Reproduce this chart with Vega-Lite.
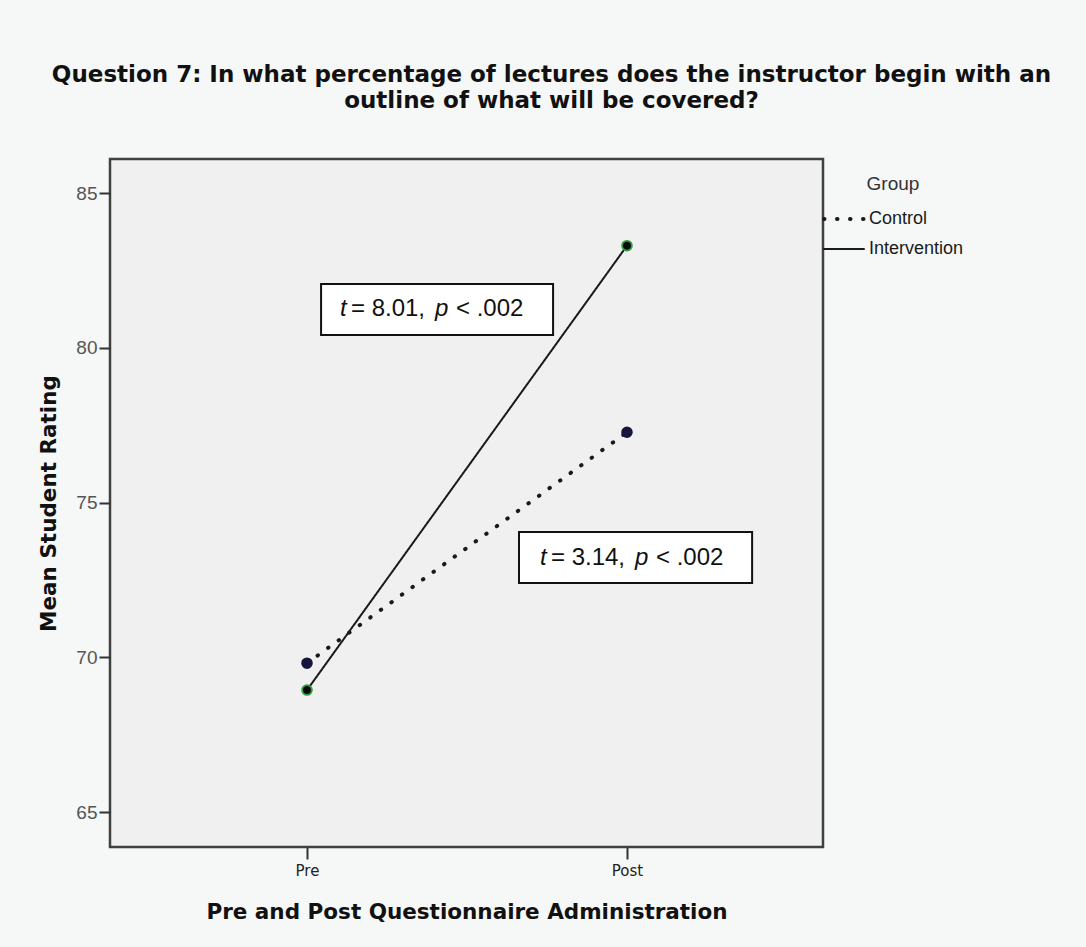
{
  "$schema": "https://vega.github.io/schema/vega-lite/v6.json",
  "autosize": {"type": "none"},
  "width": 713,
  "height": 688,
  "padding": {"left": 110, "top": 159, "right": 263, "bottom": 100},
  "background": "#f6f7f7",
  "title": {
    "text": ["Question 7:  In what percentage of lectures does the instructor begin with an", "outline of what will be covered?"],
    "font": "DejaVu Sans",
    "fontSize": 23,
    "fontWeight": "bold",
    "color": "#111111",
    "lineHeight": 26,
    "anchor": "middle",
    "dx": 85,
    "offset": 46
  },
  "datasets": {
    "means": [
      {"Group": "Control", "Time": "Pre", "Occasion": 0, "Rating": 69.81},
      {"Group": "Control", "Time": "Post", "Occasion": 1, "Rating": 77.27},
      {"Group": "Intervention", "Time": "Pre", "Occasion": 0, "Rating": 68.94},
      {"Group": "Intervention", "Time": "Post", "Occasion": 1, "Rating": 83.3}
    ],
    "notes": [
      {"x1": 0.044, "x2": 0.769, "y1": 82.06, "y2": 80.41, "tx": 0.103, "ty": 81.24, "stat": "= 8.01,"},
      {"x1": 0.6625, "x2": 1.391, "y1": 74.05, "y2": 72.4, "tx": 0.728, "ty": 73.22, "stat": "= 3.14,"}
    ]
  },
  "config": {
    "view": {"fill": "#f0f0f0", "stroke": "#404040", "strokeWidth": 2.5},
    "axis": {"grid": false, "domain": false}
  },
  "layer": [
    {
      "data": {"name": "means"},
      "mark": {"type": "line", "color": "#1a1a1a", "strokeCap": "round"},
      "encoding": {
        "x": {
          "field": "Occasion", "type": "quantitative",
          "scale": {"domain": [-0.6156, 1.6125], "nice": false, "zero": false},
          "axis": {
            "values": [0, 1],
            "labelExpr": "datum.value == 0 ? 'Pre' : 'Post'",
            "title": "Pre and Post Questionnaire Administration",
            "titleFont": "DejaVu Sans", "titleFontSize": 21.5, "titleFontWeight": "bold", "titleColor": "#111111",
            "titlePadding": 23,
            "labelFont": "DejaVu Sans", "labelFontSize": 15, "labelColor": "#222222", "labelPadding": 4,
            "tickSize": 12, "tickWidth": 2, "tickColor": "#333333"
          }
        },
        "y": {
          "field": "Rating", "type": "quantitative",
          "scale": {"domain": [63.87, 86.1], "nice": false, "zero": false},
          "axis": {
            "values": [65, 70, 75, 80, 85],
            "title": "Mean Student Rating",
            "titleFont": "DejaVu Sans", "titleFontSize": 21.5, "titleFontWeight": "bold", "titleColor": "#111111",
            "titlePadding": 15,
            "labelFont": "Liberation Sans", "labelFontSize": 19, "labelColor": "#555555", "labelPadding": 2,
            "tickSize": 11, "tickWidth": 2, "tickColor": "#333333"
          }
        },
        "detail": {"field": "Group"},
        "strokeDash": {
          "field": "Group", "type": "nominal",
          "scale": {"domain": ["Control", "Intervention"], "range": [[0.5, 12.5], [1, 0]]},
          "legend": {
            "title": "Group",
            "orient": "none", "legendX": 712, "legendY": 16,
            "titleFont": "Liberation Sans", "titleFontSize": 19, "titleFontWeight": "normal", "titleColor": "#333333",
            "titleAnchor": "middle", "titlePadding": 3,
            "labelFont": "Liberation Sans", "labelFontSize": 18, "labelColor": "#1a1a1a", "labelOffset": 3,
            "symbolType": "stroke", "symbolSize": 1600, "symbolStrokeColor": "#1a1a1a", "rowPadding": -14,
            "symbolDash": [0.5, 14],
            "encode": {"symbols": {"update": {"strokeCap": {"value": "round"}}}}
          }
        },
        "strokeWidth": {
          "field": "Group", "type": "nominal",
          "scale": {"domain": ["Control", "Intervention"], "range": [4, 2]},
          "legend": {
            "title": "Group",
            "orient": "none", "legendX": 712, "legendY": 16,
            "titleFont": "Liberation Sans", "titleFontSize": 19, "titleFontWeight": "normal", "titleColor": "#333333",
            "titleAnchor": "middle", "titlePadding": 3,
            "labelFont": "Liberation Sans", "labelFontSize": 18, "labelColor": "#1a1a1a", "labelOffset": 3,
            "symbolType": "stroke", "symbolSize": 1600, "symbolStrokeColor": "#1a1a1a", "rowPadding": -14,
            "encode": {"symbols": {"update": {"strokeCap": {"value": "round"}}}}
          }
        }
      }
    },
    {
      "data": {"name": "means"},
      "mark": {"type": "point", "filled": true, "size": 95, "opacity": 1, "strokeWidth": 1.8},
      "encoding": {
        "x": {"field": "Occasion", "type": "quantitative"},
        "y": {"field": "Rating", "type": "quantitative"},
        "fill": {"condition": {"test": "datum.Group == 'Control'", "value": "#16163c"}, "value": "#0a0a0a"},
        "stroke": {"condition": {"test": "datum.Group == 'Control'", "value": "#16163c"}, "value": "#2e9e3e"}
      }
    },
    {
      "data": {"name": "notes"},
      "mark": {"type": "rect", "fill": "#ffffff", "stroke": "#111111", "strokeWidth": 2},
      "encoding": {
        "x": {"field": "x1", "type": "quantitative"},
        "x2": {"field": "x2"},
        "y": {"field": "y1", "type": "quantitative"},
        "y2": {"field": "y2"}
      }
    },
    {
      "data": {"name": "notes"},
      "mark": {"type": "text", "text": "t", "font": "Liberation Sans", "fontStyle": "italic", "fontSize": 24, "align": "left", "baseline": "middle", "color": "#111111"},
      "encoding": {
        "x": {"field": "tx", "type": "quantitative"},
        "y": {"field": "ty", "type": "quantitative"}
      }
    },
    {
      "data": {"name": "notes"},
      "mark": {"type": "text", "font": "Liberation Sans", "fontSize": 24, "align": "left", "baseline": "middle", "color": "#111111", "dx": 11},
      "encoding": {
        "x": {"field": "tx", "type": "quantitative"},
        "y": {"field": "ty", "type": "quantitative"},
        "text": {"field": "stat"}
      }
    },
    {
      "data": {"name": "notes"},
      "mark": {"type": "text", "text": "p", "font": "Liberation Sans", "fontStyle": "italic", "fontSize": 24, "align": "left", "baseline": "middle", "color": "#111111", "dx": 95},
      "encoding": {
        "x": {"field": "tx", "type": "quantitative"},
        "y": {"field": "ty", "type": "quantitative"}
      }
    },
    {
      "data": {"name": "notes"},
      "mark": {"type": "text", "text": "< .002", "font": "Liberation Sans", "fontSize": 24, "align": "left", "baseline": "middle", "color": "#111111", "dx": 116},
      "encoding": {
        "x": {"field": "tx", "type": "quantitative"},
        "y": {"field": "ty", "type": "quantitative"}
      }
    }
  ]
}
